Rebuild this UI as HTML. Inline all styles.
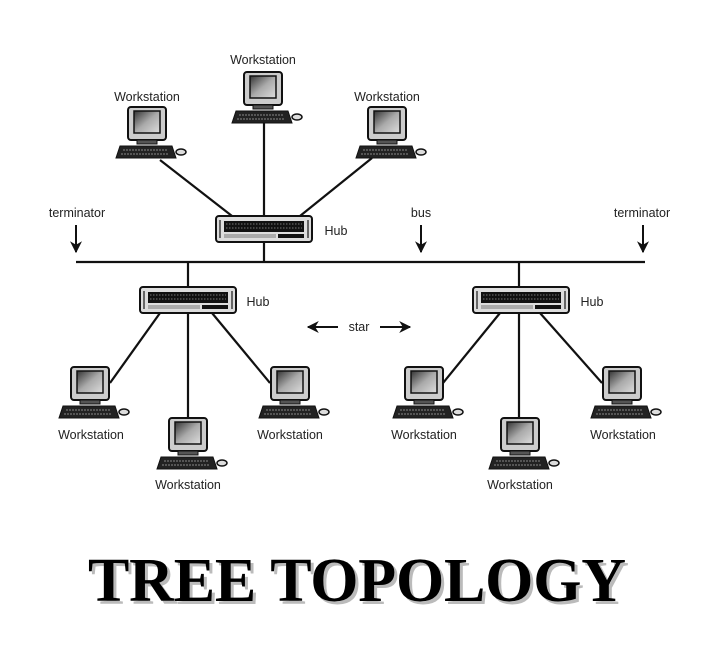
<!DOCTYPE html>
<html><head><meta charset="utf-8"><style>
html,body{margin:0;padding:0;background:#fff;}
svg{display:block;}
</style></head><body>
<svg width="720" height="669" viewBox="0 0 720 669" xmlns="http://www.w3.org/2000/svg">
<defs>
<linearGradient id="scr" x1="0" y1="0" x2="1" y2="1">
<stop offset="0" stop-color="#333"/><stop offset="0.5" stop-color="#aaa"/><stop offset="1" stop-color="#ddd"/>
</linearGradient>
<g id="ws">
<rect x="-19" y="0" width="38" height="33" rx="3" fill="#ccc" stroke="#111" stroke-width="2"/>
<rect x="-13" y="4" width="26" height="22" fill="url(#scr)" stroke="#111" stroke-width="1.5"/>
<rect x="-10" y="33" width="20" height="4" fill="#555" stroke="#111" stroke-width="1"/>
<path d="M-27 39 L25 39 L29 51 L-31 51 Z" fill="#222" stroke="#111"/>
<line x1="-24" y1="43" x2="20" y2="43" stroke="#888" stroke-width="1" stroke-dasharray="2 1"/>
<line x1="-26" y1="47" x2="22" y2="47" stroke="#888" stroke-width="1" stroke-dasharray="2 1"/>
<ellipse cx="34" cy="45" rx="5" ry="3" fill="#ddd" stroke="#111" stroke-width="1.5"/>
</g>
<g id="hub">
<rect x="0" y="0" width="96" height="26" rx="3" fill="#ddd" stroke="#111" stroke-width="2"/>
<rect x="8" y="5" width="80" height="11" fill="#111"/>
<path d="M10 8 H86 M10 12 H86" stroke="#777" stroke-width="1" stroke-dasharray="1.5 1.5"/>
<rect x="8" y="18" width="52" height="4" fill="#aaa"/>
<rect x="62" y="18" width="26" height="4" fill="#111"/>
<line x1="4" y1="4" x2="4" y2="22" stroke="#666" stroke-width="2"/>
<line x1="92" y1="4" x2="92" y2="22" stroke="#666" stroke-width="2"/>
</g>
<marker id="ah" viewBox="0 0 10 10" refX="9" refY="5" markerWidth="6" markerHeight="6" orient="auto-start-reverse">
<path d="M0 0 L10 5 L0 10 L3 5 Z" fill="#111"/>
</marker>
</defs>

<g stroke="#111" stroke-width="2.2" fill="none">
<line x1="76" y1="262" x2="645" y2="262"/>
<line x1="264" y1="120" x2="264" y2="262"/>
<line x1="160" y1="160" x2="232" y2="216"/>
<line x1="372" y1="158" x2="300" y2="216"/>
<line x1="188" y1="262" x2="188" y2="287"/>
<line x1="519" y1="262" x2="519" y2="287"/>
<line x1="160" y1="313" x2="110" y2="383"/>
<line x1="188" y1="313" x2="188" y2="418"/>
<line x1="212" y1="313" x2="270" y2="383"/>
<line x1="500" y1="313" x2="443" y2="383"/>
<line x1="519" y1="313" x2="519" y2="418"/>
<line x1="540" y1="313" x2="602" y2="383"/>
</g>
<g stroke="#111" stroke-width="2" marker-end="url(#ah)">
<line x1="76" y1="225" x2="76" y2="252"/>
<line x1="421" y1="225" x2="421" y2="252"/>
<line x1="643" y1="225" x2="643" y2="252"/>
<line x1="338" y1="327" x2="308" y2="327"/>
<line x1="380" y1="327" x2="410" y2="327"/>
</g>

<use href="#hub" x="216" y="216"/>
<use href="#hub" x="140" y="287"/>
<use href="#hub" x="473" y="287"/>

<use href="#ws" x="147" y="107"/>
<use href="#ws" x="263" y="72"/>
<use href="#ws" x="387" y="107"/>
<use href="#ws" x="90" y="367"/>
<use href="#ws" x="188" y="418"/>
<use href="#ws" x="290" y="367"/>
<use href="#ws" x="424" y="367"/>
<use href="#ws" x="520" y="418"/>
<use href="#ws" x="622" y="367"/>

<g font-family="Liberation Sans, sans-serif" font-size="12.5" fill="#222" text-anchor="middle">
<text x="147" y="101">Workstation</text>
<text x="263" y="64">Workstation</text>
<text x="387" y="101">Workstation</text>
<text x="91" y="439">Workstation</text>
<text x="188" y="489">Workstation</text>
<text x="290" y="439">Workstation</text>
<text x="424" y="439">Workstation</text>
<text x="520" y="489">Workstation</text>
<text x="623" y="439">Workstation</text>
<text x="77" y="217">terminator</text>
<text x="421" y="217">bus</text>
<text x="642" y="217">terminator</text>
<text x="359" y="331">star</text>
<text x="336" y="235">Hub</text>
<text x="258" y="306">Hub</text>
<text x="592" y="306">Hub</text>
</g>

<g font-family="Liberation Serif, serif" font-weight="bold" font-size="62">
<text x="91" y="604" fill="#bbb" textLength="538" lengthAdjust="spacing">TREE TOPOLOGY</text>
<text x="88" y="601" fill="#000" textLength="538" lengthAdjust="spacing">TREE TOPOLOGY</text>
</g>
</svg>
</body></html>
